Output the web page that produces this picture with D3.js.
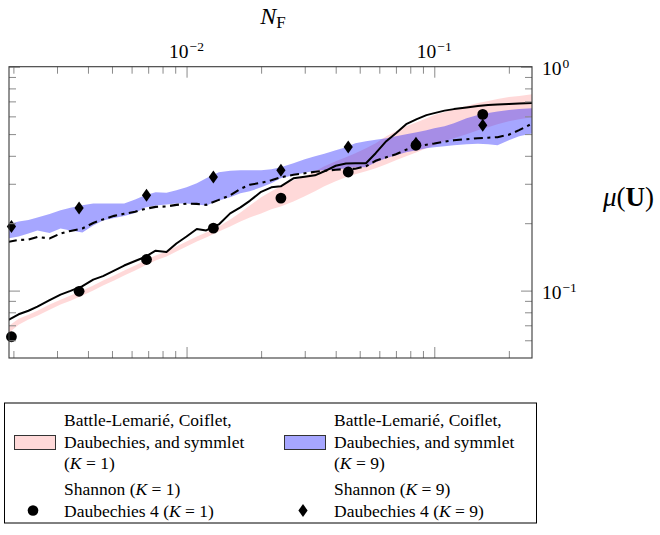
<!DOCTYPE html>
<html>
<head>
<meta charset="utf-8">
<script src="https://cdn.jsdelivr.net/npm/d3@7"></script>
<style>
  body { margin: 0; background: #fff; }
</style>
</head>
<body>
<div id="chart"></div>
<script>
// N_F sample points shared by the bands and the Shannon curves
const nGrid = [0.0019, 0.0021, 0.0023, 0.0025, 0.0028, 0.0031, 0.0034, 0.0038, 0.0042, 0.0046,
  0.0051, 0.0056, 0.0062, 0.0068, 0.0075, 0.0083, 0.0091, 0.01, 0.011, 0.012,
  0.0135, 0.015, 0.0165, 0.018, 0.02, 0.022, 0.024, 0.027, 0.03, 0.033,
  0.036, 0.04, 0.044, 0.048, 0.053, 0.058, 0.064, 0.07, 0.077, 0.085,
  0.093, 0.1, 0.11, 0.12, 0.135, 0.15, 0.165, 0.18, 0.2, 0.22, 0.25];

// Battle-Lemarié / Coiflet / Daubechies / symmlet envelope, K = 1
const bandK1Lo = [0.0642, 0.0704, 0.0742, 0.0772, 0.0821, 0.0866, 0.0902, 0.0950, 0.1000, 0.1053,
  0.1109, 0.1167, 0.1229, 0.1294, 0.1363, 0.1419, 0.1494, 0.1574, 0.1658, 0.1728,
  0.1837, 0.1934, 0.2037, 0.2123, 0.2212, 0.2306, 0.2377, 0.2503, 0.2636, 0.2775,
  0.2922, 0.3077, 0.3207, 0.3307, 0.3411, 0.3518, 0.3667, 0.3822, 0.3982, 0.4150,
  0.4324, 0.4459, 0.4647, 0.4793, 0.4996, 0.5206, 0.5370, 0.5538, 0.5712, 0.5831, 0.5952];
const bandK1Hi = [0.0690, 0.0749, 0.0780, 0.0813, 0.0866, 0.0911, 0.0950, 0.1000, 0.1053, 0.1109,
  0.1167, 0.1229, 0.1294, 0.1363, 0.1434, 0.1494, 0.1574, 0.1658, 0.1746, 0.1818,
  0.1934, 0.2079, 0.2235, 0.2402, 0.2609, 0.2775, 0.2922, 0.3109, 0.3239, 0.3411,
  0.3593, 0.3783, 0.3941, 0.4107, 0.4324, 0.4552, 0.4893, 0.5153, 0.5425, 0.5653,
  0.5891, 0.6078, 0.6269, 0.6466, 0.6667, 0.6877, 0.7020, 0.7167, 0.7316, 0.7392, 0.7546];

// same envelope, K = 9
const bandK9Lo = [0.1710, 0.1746, 0.1799, 0.1856, 0.1809, 0.1895, 0.1856, 0.1818, 0.1955, 0.2058,
  0.2112, 0.2156, 0.2224, 0.2353, 0.2402, 0.2427, 0.2452, 0.2452, 0.2427, 0.2402,
  0.2529, 0.2609, 0.2719, 0.2775, 0.2892, 0.3014, 0.3174, 0.3273, 0.3358, 0.3428,
  0.3446, 0.3464, 0.3518, 0.3554, 0.3554, 0.3744, 0.3902, 0.4023, 0.4150, 0.4236,
  0.4324, 0.4369, 0.4414, 0.4459, 0.4505, 0.4529, 0.4505, 0.4459, 0.4695, 0.4893, 0.5047];
const bandK9Hi = [0.1975, 0.2037, 0.2069, 0.2123, 0.2201, 0.2282, 0.2342, 0.2403, 0.2452, 0.2452,
  0.2452, 0.2452, 0.2555, 0.2663, 0.2747, 0.2733, 0.2804, 0.2892, 0.3014, 0.3174,
  0.3376, 0.3428, 0.3446, 0.3446, 0.3446, 0.3482, 0.3554, 0.3706, 0.3862, 0.3982,
  0.4086, 0.4236, 0.4369, 0.4552, 0.4647, 0.4719, 0.4793, 0.4893, 0.4996, 0.5100,
  0.5206, 0.5315, 0.5425, 0.5595, 0.5891, 0.6078, 0.6205, 0.6302, 0.6400, 0.6466, 0.6533];

// Shannon wavelet
const shannonK1 = [0.0738, 0.0784, 0.0813, 0.0848, 0.0907, 0.0960, 0.0997, 0.1047, 0.1120, 0.1161,
  0.1229, 0.1294, 0.1356, 0.1413, 0.1508, 0.1488, 0.1624, 0.1745, 0.1885, 0.1856,
  0.1975, 0.2213, 0.2353, 0.2517, 0.2762, 0.2892, 0.2922, 0.3174, 0.3224, 0.3273,
  0.3411, 0.3611, 0.3694, 0.3705, 0.3705, 0.4108, 0.4648, 0.5047, 0.5538, 0.5834,
  0.6076, 0.6203, 0.6365, 0.6465, 0.6566, 0.6668, 0.6737, 0.6786, 0.6822, 0.6857, 0.6878];
const shannonK9 = [0.1649, 0.1683, 0.1692, 0.1736, 0.1709, 0.1800, 0.1847, 0.1895, 0.2005, 0.2080,
  0.2157, 0.2202, 0.2248, 0.2317, 0.2365, 0.2377, 0.2414, 0.2444, 0.2439, 0.2414,
  0.2542, 0.2663, 0.2848, 0.2969, 0.3030, 0.3109, 0.3206, 0.3291, 0.3342, 0.3394,
  0.3429, 0.3465, 0.3490, 0.3501, 0.3592, 0.3802, 0.3942, 0.4064, 0.4258, 0.4415,
  0.4484, 0.4539, 0.4624, 0.4696, 0.4745, 0.4794, 0.4819, 0.4844, 0.4970, 0.5206, 0.5596];

// Daubechies 4 markers
const markN = [0.001964, 0.003683, 0.006893, 0.01283, 0.02404, 0.04494, 0.08435, 0.1569];
const daub4K1 = [0.0622, 0.0993, 0.1377, 0.1901, 0.2590, 0.3386, 0.4459, 0.6122];
const daub4K9 = [0.1934, 0.2337, 0.2663, 0.3217, 0.3446, 0.4383, 0.4552, 0.5481];

// ticks
const xTickExp = [-2, -1];
const yTickExp = [-1, 0];
const xMinor = [0.002, 0.003, 0.004, 0.005, 0.006, 0.007, 0.008, 0.009,
  0.02, 0.03, 0.04, 0.05, 0.06, 0.07, 0.08, 0.09, 0.2];
const yMinor = [0.06, 0.07, 0.08, 0.09, 0.2, 0.3, 0.4, 0.5, 0.6, 0.7, 0.8, 0.9];

(function () {
    const W = 660, H = 535;
    const plot = { left: 9, right: 532, top: 66.7, bottom: 358 };
    const serif = "'Liberation Serif'";

    const svg = d3.select("#chart").append("svg")
        .attr("width", W).attr("height", H);

    // every text node gets the serif face explicitly
    const addText = (xp, yp, size) => svg.append("text")
        .attr("x", xp).attr("y", yp)
        .style("font-family", serif).style("font-size", size + "px")
        .attr("fill", "#000");

    const x = d3.scaleLog().domain([0.00192, 0.248]).range([plot.left, plot.right]);
    const y = d3.scaleLog().domain([0.05, 1]).range([plot.bottom, plot.top]);

    svg.append("clipPath").attr("id", "clip").append("rect")
        .attr("x", plot.left).attr("y", plot.top)
        .attr("width", plot.right - plot.left).attr("height", plot.bottom - plot.top);

    const g = svg.append("g").attr("clip-path", "url(#clip)");

    const band = (lo, hi) => d3.area()
        .x((d, i) => x(nGrid[i]))
        .y0((d, i) => y(lo[i]))
        .y1((d, i) => y(hi[i]));

    g.append("path").datum(nGrid).attr("d", band(bandK1Lo, bandK1Hi))
        .attr("fill", "red").attr("fill-opacity", 0.15);
    g.append("path").datum(nGrid).attr("d", band(bandK9Lo, bandK9Hi))
        .attr("fill", "blue").attr("fill-opacity", 0.35);

    const curve = vals => d3.line()
        .x((d, i) => x(nGrid[i]))
        .y((d, i) => y(vals[i]));

    g.append("path").datum(nGrid).attr("d", curve(shannonK1))
        .attr("fill", "none").attr("stroke", "#000").attr("stroke-width", 2)
        .attr("stroke-linejoin", "round");
    g.append("path").datum(nGrid).attr("d", curve(shannonK9))
        .attr("fill", "none").attr("stroke", "#000").attr("stroke-width", 2.1)
        .attr("stroke-dasharray", "9,4.5,3,4.5");

    const diamond = "M0,-6.5L4.6,0L0,6.5L-4.6,0Z";

    svg.append("g").selectAll("circle")
        .data(markN).enter().append("circle")
        .attr("cx", d => x(d)).attr("cy", (d, i) => y(daub4K1[i]))
        .attr("r", 5.4).attr("fill", "#000");

    svg.append("g").selectAll("path")
        .data(markN).enter().append("path")
        .attr("d", diamond)
        .attr("transform", (d, i) => `translate(${x(d)},${y(daub4K9[i])})`)
        .attr("fill", "#000");

    // ticks pointing inward on all four sides
    function ticks(axis, transform, vals, size) {
        svg.append("g").attr("transform", transform)
            .call(axis.tickValues(vals).tickSize(-size).tickFormat(""))
            .call(s => s.select(".domain").remove())
            .call(s => s.selectAll("text").remove())
            .selectAll("line").attr("stroke", "#8a8a8a");
    }
    const xMajor = xTickExp.map(e => Math.pow(10, e));
    const yMajor = yTickExp.map(e => Math.pow(10, e));
    ticks(d3.axisTop(x), `translate(0,${plot.top})`, xMajor, 11);
    ticks(d3.axisTop(x), `translate(0,${plot.top})`, xMinor, 7);
    ticks(d3.axisBottom(x), `translate(0,${plot.bottom})`, xMajor, 11);
    ticks(d3.axisBottom(x), `translate(0,${plot.bottom})`, xMinor, 7);
    ticks(d3.axisLeft(y), `translate(${plot.left},0)`, yMajor, 11);
    ticks(d3.axisLeft(y), `translate(${plot.left},0)`, yMinor, 7);
    ticks(d3.axisRight(y), `translate(${plot.right},0)`, yMajor, 11);
    ticks(d3.axisRight(y), `translate(${plot.right},0)`, yMinor, 7);

    svg.append("rect")
        .attr("x", plot.left).attr("y", plot.top)
        .attr("width", plot.right - plot.left).attr("height", plot.bottom - plot.top)
        .attr("fill", "none").attr("stroke", "#3a3a3a").attr("stroke-width", 1.1);

    // tick labels 10^e
    function powerLabel(sel, e) {
        sel.append("tspan").text("10");
        sel.append("tspan").style("font-size", "13.5px").attr("dy", -7.5).attr("dx", 1)
            .text(e < 0 ? "\u2212" + (-e) : String(e));
    }
    xTickExp.forEach(e => {
        addText(x(Math.pow(10, e)), 58, 19.5)
            .attr("text-anchor", "middle")
            .call(powerLabel, e);
    });
    yTickExp.forEach(e => {
        addText(542, y(Math.pow(10, e)) + 8.5, 19.5)
            .call(powerLabel, e);
    });

    // axis titles
    const xt = addText(273, 24, 24).attr("text-anchor", "middle");
    xt.append("tspan").style("font-style", "italic").text("N");
    xt.append("tspan").style("font-size", "17px").attr("dy", 4).text("F");

    const yt = addText(603, 206, 27);
    yt.append("tspan").style("font-style", "italic").text("\u03bc");
    yt.append("tspan").text("(");
    yt.append("tspan").style("font-weight", "bold").text("U");
    yt.append("tspan").text(")");

    // legend
    const legendK = [1, 9];
    const colX = [14, 284];
    const bandFill = [["red", 0.15], ["blue", 0.35]];
    const lineY = [426, 447.5, 469, 495, 516.5];

    svg.append("rect").attr("x", 4.5).attr("y", 403).attr("width", 532).attr("height", 120)
        .attr("fill", "#fff").attr("stroke", "#000").attr("stroke-width", 1);

    function kText(sel, prefix, k) {
        sel.append("tspan").text(prefix + "(");
        sel.append("tspan").style("font-style", "italic").text("K");
        sel.append("tspan").text(" = " + k + ")");
    }

    legendK.forEach((k, c) => {
        const x0 = colX[c];
        const tx = x0 + 50;
        svg.append("rect").attr("x", x0 + 0.5).attr("y", 435.5).attr("width", 41).attr("height", 14)
            .attr("fill", bandFill[c][0]).attr("fill-opacity", bandFill[c][1])
            .attr("stroke", "#333").attr("stroke-width", 1);

        addText(tx, lineY[0], 17.5).text("Battle-Lemarié, Coiflet,");
        addText(tx, lineY[1], 17.5).text("Daubechies, and symmlet");
        addText(tx, lineY[2], 17.5).call(kText, "", k);
        addText(tx, lineY[3], 17.5).call(kText, "Shannon ", k);
        addText(tx, lineY[4], 17.5).call(kText, "Daubechies 4 ", k);

        if (c === 0) {
            svg.append("circle").attr("cx", x0 + 19).attr("cy", 510.5).attr("r", 5.3).attr("fill", "#000");
        } else {
            svg.append("path").attr("d", diamond)
                .attr("transform", `translate(${x0 + 19},510.5)`).attr("fill", "#000");
        }
    });
})();
</script>
</body>
</html>
